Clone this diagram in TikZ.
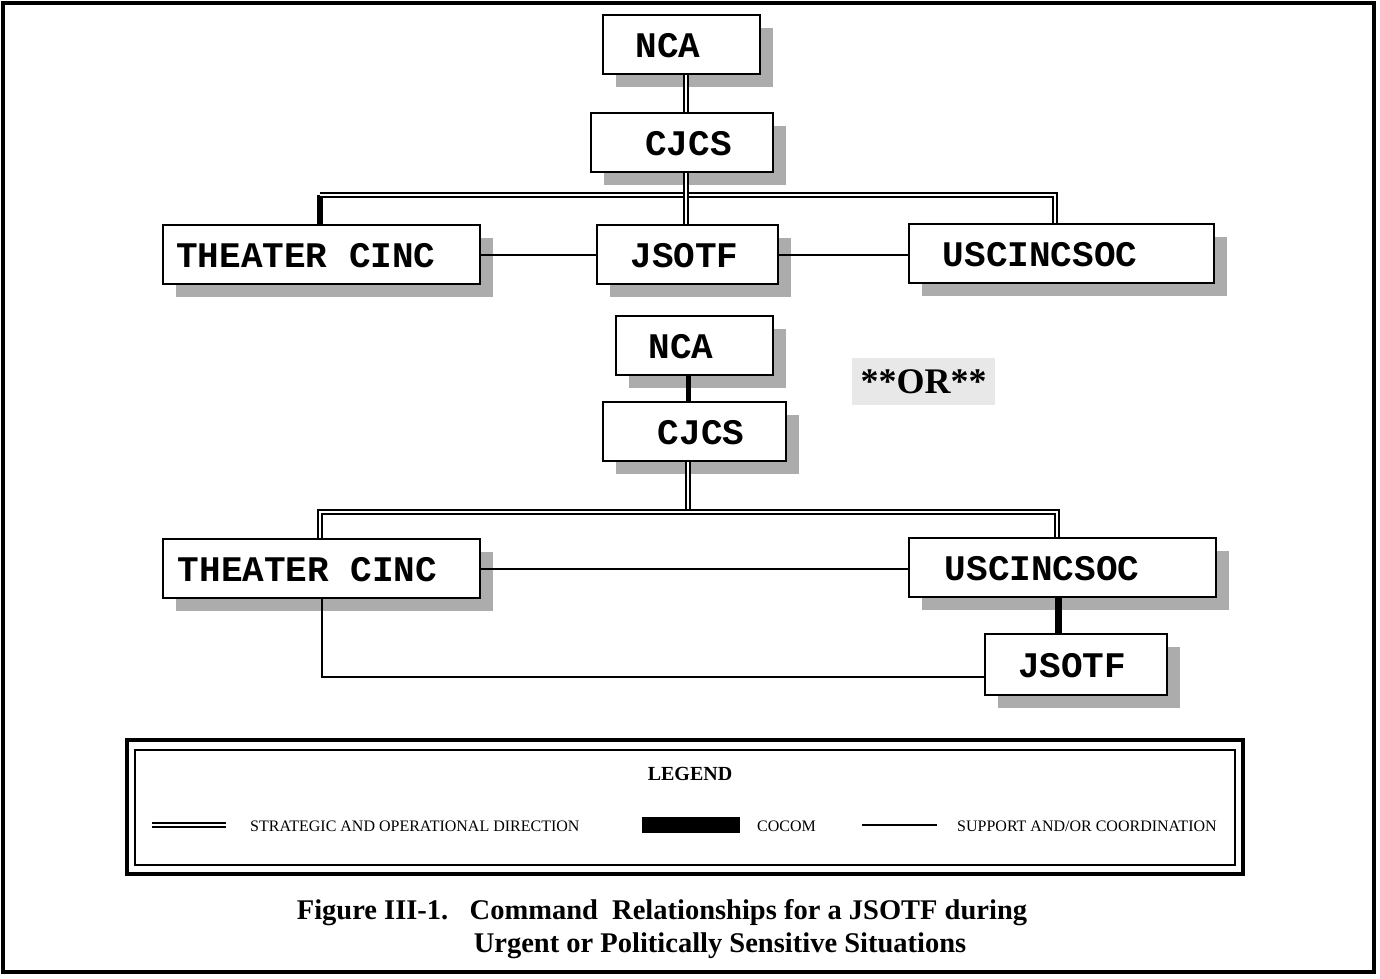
\documentclass[tikz,border=0pt]{standalone}
\usepackage{fontspec}
\setmainfont{Liberation Serif}
\newfontfamily\boxfont{Liberation Mono}
\usetikzlibrary{shadows}
\newcommand\txs[2]{\makebox[0pt]{\hspace*{#1}\hspace*{#1}\raisebox{-13pt}[0pt][0pt]{#2}}}
\begin{document}
\begin{tikzpicture}[x=1pt,y=-1pt,
  box/.style={draw=black, line width=2.5pt, fill=white, inner sep=0pt,
    font=\boxfont\bfseries\fontsize{36}{40}\selectfont,
    drop shadow={shadow xshift=13pt, shadow yshift=-13pt, fill=gray!65, opacity=1}},
  strat/.style={draw=black, line width=1.8pt, double=white, double distance=2pt},
  cocom/.style={draw=black, line width=7pt},
  supp/.style={draw=black, line width=2pt},
  legtext/.style={anchor=west, inner sep=0pt, font=\fontsize{16}{18}\selectfont},
  caption/.style={inner sep=0pt, font=\bfseries\fontsize{28.5}{32}\selectfont},
]
\useasboundingbox (0,0) rectangle (1380,978);
\draw[line width=4pt] (3,3) rectangle (1374,972);

% ---------- upper diagram ----------
\node[box, minimum width=157pt, minimum height=59pt] (nca1) at (681.5,44.5) {\txs{-13.5pt}{NCA}};
\node[box, minimum width=182pt, minimum height=59pt] (cjcs1) at (682,142.5) {\txs{6.5pt}{CJCS}};
\node[box, minimum width=317pt, minimum height=59pt] (theater1) at (321.5,254.5) {\txs{-15.5pt}{THEATER CINC}};
\node[box, minimum width=181pt, minimum height=59pt] (jsotf1) at (687.5,254.5) {\txs{-3pt}{JSOTF}};
\node[box, minimum width=305pt, minimum height=59pt] (usc1) at (1061.5,253.5) {\txs{-21.5pt}{USCINCSOC}};

\coordinate (xa) at (686,0);
\coordinate (b1L) at (320,195);
\coordinate (b1R) at (1055,195);
\draw[strat] (nca1.south -| xa) -- (cjcs1.north -| xa);
\draw[line width=5.6pt] (theater1.north -| b1L) -- (b1L);
\draw[strat] (b1L) -- (b1R) -- (usc1.north -| b1R);
\draw[strat] (cjcs1.south -| xa) -- (jsotf1.north -| xa);
\draw[supp] (theater1.east) -- (jsotf1.west);
\draw[supp] (jsotf1.east) -- (jsotf1.east -| usc1.west);

% ---------- OR ----------
\node[fill=gray!18, inner sep=0pt, minimum width=143pt, minimum height=47pt,
  font=\bfseries\fontsize{36}{40}\selectfont] (or) at (923.5,381.5) {**OR**};

% ---------- lower diagram ----------
\node[box, minimum width=157pt, minimum height=59pt] (nca2) at (694.5,345.5) {\txs{-13.5pt}{NCA}};
\node[box, minimum width=183pt, minimum height=59pt] (cjcs2) at (694.5,431.5) {\txs{6.5pt}{CJCS}};
\node[box, minimum width=317pt, minimum height=59pt] (theater2) at (321.5,568.5) {\txs{-14pt}{THEATER CINC}};
\node[box, minimum width=307pt, minimum height=59pt] (usc2) at (1062.5,567.5) {\txs{-20.5pt}{USCINCSOC}};
\node[box, minimum width=182pt, minimum height=61pt] (jsotf2) at (1076,664.5) {\txs{-4pt}{JSOTF}};

\coordinate (xb) at (688,0);
\coordinate (b2L) at (320,512);
\coordinate (b2R) at (1057,512);
\coordinate (xc) at (1058,0);
\coordinate (dL) at (322,677);
\draw[line width=5pt] (nca2.south -| xb) -- (cjcs2.north -| xb);
\draw[strat] (cjcs2.south -| xb) -- (xb |- b2L);
\draw[strat] (theater2.north -| b2L) -- (b2L) -- (b2R) -- (usc2.north -| b2R);
\draw[supp] (theater2.east) -- (theater2.east -| usc2.west);
\draw[cocom] (jsotf2.north -| xc) -- (usc2.south -| xc);
\draw[supp] (theater2.south -| dL) -- (dL) -- (dL -| jsotf2.west);

% ---------- legend ----------
\draw[line width=3.5pt] (127,740) rectangle (1243,874);
\draw[line width=1.5pt] (135,750) rectangle (1235,865);
\node[inner sep=0pt, font=\bfseries\fontsize{20}{22}\selectfont] (legend) at (690,774) {LEGEND};
\coordinate (l1a) at (152,825);
\coordinate (l1b) at (226,825);
\draw[strat] (l1a) -- (l1b);
\node[legtext] (t1) at (250,826) {STRATEGIC AND OPERATIONAL DIRECTION};
\node[fill=black, inner sep=0pt, minimum width=98pt, minimum height=16pt] (cocomkey) at (691,825) {};
\node[legtext] (t2) at (757,826) {COCOM};
\coordinate (l3a) at (862,825);
\coordinate (l3b) at (937,825);
\draw[supp] (l3a) -- (l3b);
\node[legtext] (t3) at (957,826) {SUPPORT AND/OR COORDINATION};

% ---------- caption ----------
\node[caption] (cap1) at (662,913) {Figure III-1.\ \ \ Command\ \ Relationships for a JSOTF during};
\node[caption] (cap2) at (720,946) {Urgent or Politically Sensitive Situations};
\end{tikzpicture}
\end{document}
